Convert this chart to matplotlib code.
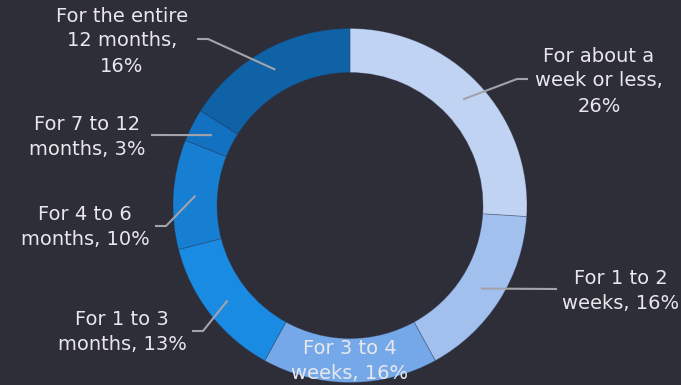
import numpy as np
import matplotlib
matplotlib.use("Agg")
import matplotlib.pyplot as plt

# Share of respondents by duration
categories = [
    "For about a\nweek or less",
    "For 1 to 2\nweeks",
    "For 3 to 4\nweeks",
    "For 1 to 3\nmonths",
    "For 4 to 6\nmonths",
    "For 7 to 12\nmonths",
    "For the entire\n12 months",
]
values = [26, 16, 16, 13, 10, 3, 16]
colors = ["#c0d3f3", "#a1c0ee", "#75a8e8", "#1a8be3", "#167fd2", "#1271c1", "#0e62a5"]

BG = "#2e2e38"
TEXT = "#e8e8ec"
LEADER = "#a3a3ab"

W, H = 681, 385
fig = plt.figure(figsize=(W / 100, H / 100), dpi=100, facecolor=BG)
ax = fig.add_axes([0, 0, 1, 1])
ax.set_facecolor(BG)

cx, cy = 350, H - 205.5
R = 177
ring = 44

wedges, _ = ax.pie(
    values, colors=colors, startangle=90, counterclock=False,
    radius=R, center=(cx, cy),
    wedgeprops=dict(width=ring, edgecolor=(0.18, 0.2, 0.3, 0.35), linewidth=0.6),
)
ax.set_xlim(0, W)
ax.set_ylim(0, H)
ax.set_aspect("equal")
ax.axis("off")

# label layout: text centre (x, y from top), connector end near text (x, y from top), elbow length
layout = [
    ((599, 81), (528, 79), -11),
    ((621, 291), (557, 289), 0),
    ((350, 361), None, 0),
    ((122, 332), (192, 331), 11),
    ((85, 227), (155, 226), 11),
    ((87, 137), (151, 135), 0),
    ((122, 41), (197, 39), 11),
]

total = float(sum(values))
cum = np.cumsum([0] + values[:-1])
r_mid = R - ring / 2
for cat, v, c0, (tpos, cpos, elbow) in zip(categories, values, cum, layout):
    ang = np.deg2rad((c0 + v / 2) / total * 360.0)
    px = cx + r_mid * np.sin(ang)
    py = cy + r_mid * np.cos(ang)
    label = f"{cat}, {v}%"
    if cat.startswith("For about") or cat.startswith("For the entire"):
        label = f"{cat},\n{v}%"
    ax.text(tpos[0], H - tpos[1], label, ha="center", va="center",
            fontsize=14, color=TEXT, linespacing=1.4, family="DejaVu Sans")
    if cpos is not None:
        ex, ey = cpos[0], H - cpos[1]
        xs = [ex, ex + elbow, px] if elbow else [ex, px]
        ys = [ey, ey, py] if elbow else [ey, py]
        ax.plot(xs, ys, color=LEADER, lw=1.5, solid_capstyle="butt")

fig.savefig("out.png", dpi=100, facecolor=BG)
